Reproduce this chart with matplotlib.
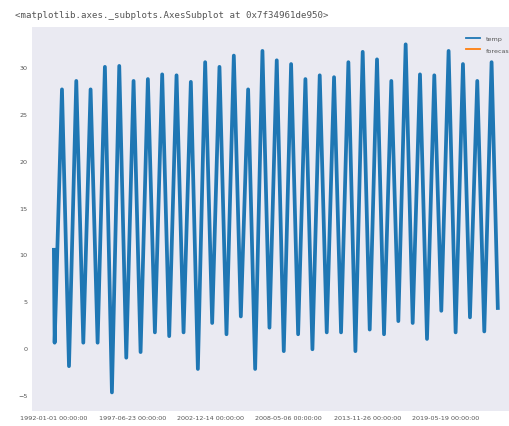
import matplotlib
matplotlib.use("Agg")
import matplotlib.pyplot as plt
import pandas as pd

# ---- data ----
series_start = "1992-01-01"
start_value = 10.5
end_date = "2022-12-31"
end_value = 4.3
years = list(range(1992, 2023))
# winter minimum (around 20 Jan) of each year
trough_values = [0.6, -1.9, 0.6, 0.6, -4.7, -1.0, -0.4, 1.7, 1.3, 1.7,
                 -2.2, 2.7, 1.5, 3.4, -2.2, 2.2, -0.3, 1.5, -0.1, 1.7,
                 1.7, -0.3, 2.0, 1.5, 2.9, 2.7, 1.0, 4.0, 1.7, 3.3, 1.8]
# summer maximum (around 25 Jul) of each year
peak_values = [27.6, 28.5, 27.6, 30.0, 30.1, 28.5, 28.7, 29.2, 29.1, 28.4,
               30.5, 30.0, 31.2, 27.6, 31.7, 30.7, 30.3, 28.7, 29.1, 28.9,
               30.5, 31.6, 30.8, 28.5, 32.4, 29.2, 29.1, 31.7, 30.3, 28.5, 30.5]
forecast_values = []
tick_labels = ["1992-01-01 00:00:00", "1997-06-23 00:00:00", "2002-12-14 00:00:00",
               "2008-05-06 00:00:00", "2013-11-26 00:00:00", "2019-05-19 00:00:00"]
header_text = "<matplotlib.axes._subplots.AxesSubplot at 0x7f34961de950>"

# ---- build the series ----
t0 = pd.Timestamp(series_start)
dates = [t0]
vals = [start_value]
for y, lo, hi in zip(years, trough_values, peak_values):
    dates += [pd.Timestamp(f"{y}-01-20"), pd.Timestamp(f"{y}-07-25")]
    vals += [lo, hi]
dates.append(pd.Timestamp(end_date))
vals.append(end_value)
xpos = [(d - t0).days for d in dates]
tick_pos = [(pd.Timestamp(s) - t0).days for s in tick_labels]

fig = plt.figure(figsize=(5.10, 4.27), dpi=100)
fig.patch.set_facecolor("white")
fig.text(15 / 510, 1 - 15 / 427, header_text, family="DejaVu Sans Mono",
         fontsize=6.6, color="#555555", va="center", ha="left")

ax = fig.add_axes([31.7 / 510, 1 - 411.7 / 427, (520 - 31.7) / 510, (411.7 - 28) / 427])
ax.set_facecolor("#EAEAF2")
for s in ax.spines.values():
    s.set_visible(False)

ax.plot(xpos, vals, color="#1f77b4", lw=2.7, label="temp")
ax.plot(forecast_values, forecast_values, color="#ff7f0e", lw=1.2, label="forecast")

ax.set_xlim(-566, 11888)
ax.set_ylim(-6.65, 34.25)
ax.set_xticks(tick_pos)
ax.set_xticklabels(tick_labels)
ax.set_yticks([-5, 0, 5, 10, 15, 20, 25, 30])
ax.tick_params(length=0, labelsize=4.6, colors="#555555", pad=3)

leg = ax.legend(loc="upper right", frameon=False, fontsize=4.6, handlelength=2.2,
                labelspacing=1.0, borderaxespad=0.9)
for ln in leg.get_lines():
    ln.set_linewidth(1.3)
for t in leg.get_texts():
    t.set_color("#555555")

fig.savefig("out.png", dpi=100)
